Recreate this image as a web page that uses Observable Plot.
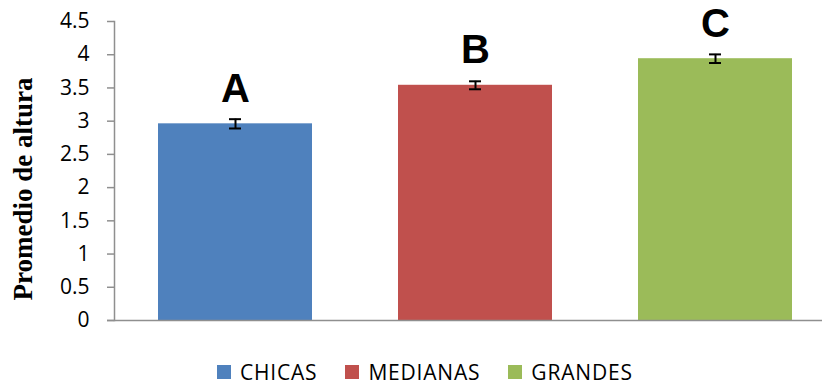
<!DOCTYPE html>
<html>
<head>
<meta charset="utf-8">
<script src="https://cdn.jsdelivr.net/npm/d3@7"></script>
<script src="https://cdn.jsdelivr.net/npm/@observablehq/plot@0.6"></script>
<style>
  html, body { margin: 0; padding: 0; background: #fff; }
  #chart { width: 822px; height: 385px; position: relative; }
  .legend { position: absolute; left: 217px; top: 361px; height: 22px; display: flex; align-items: center;
            font-family: "Open Sans", sans-serif; font-size: 21px; line-height: 22px; color: #000; }
  .legend .item { display: flex; align-items: center; margin-right: 28px; }
  .legend .sw { width: 14px; height: 14px; margin-right: 9px; }
  .legend .lab { display: inline-block; height: 22px; line-height: 22px; letter-spacing: 0.8px; }
</style>
</head>
<body>
<div id="chart"></div>
<script>
const categories = ["CHICAS", "MEDIANAS", "GRANDES"];
const means = [2.96, 3.54, 3.94];
const errors = [0.07, 0.06, 0.065];
const letters = ["A", "B", "C"];
const colors = ["#4F81BD", "#C0504D", "#9BBB59"];
const yTicks = [0, 0.5, 1, 1.5, 2, 2.5, 3, 3.5, 4, 4.5];
const yLabel = "Promedio de altura";

const data = categories.map((c, i) => ({cat: c, mean: means[i], err: errors[i], letter: letters[i]}));

const axisGrey = "#8f8f8f";
const capInset = (154 - 12) / 2;

const plot = Plot.plot({
  width: 822,
  height: 340,
  marginLeft: 114,
  marginRight: 0,
  marginTop: 21,
  marginBottom: 20,
  style: {fontFamily: "Open Sans, sans-serif", fontSize: "21px", color: "#000", background: "#fff"},
  x: {domain: categories, range: [114, 836], paddingInner: 0.36, paddingOuter: 0.18, axis: null},
  y: {domain: [0, 4.5], axis: null},
  color: {domain: categories, range: colors},
  marks: [
    Plot.barY(data, {x: "cat", y: "mean", fill: "cat"}),
    Plot.ruleY([0], {stroke: axisGrey, strokeWidth: 1.5, insetLeft: -7}),
    Plot.frame({anchor: "left", stroke: axisGrey, strokeWidth: 1.5}),
    Plot.axisY({ticks: yTicks, tickSize: 7, tickPadding: 18, stroke: axisGrey, strokeWidth: 1.5,
                tickFormat: d => String(d), label: null, fontSize: 21}),
    Plot.ruleX(data, {x: "cat", y1: d => d.mean - d.err, y2: d => d.mean + d.err, stroke: "#000", strokeWidth: 2}),
    Plot.tickY(data, {x: "cat", y: d => d.mean + d.err, stroke: "#000", strokeWidth: 2, insetLeft: capInset, insetRight: capInset}),
    Plot.tickY(data, {x: "cat", y: d => d.mean - d.err, stroke: "#000", strokeWidth: 2, insetLeft: capInset, insetRight: capInset}),
    Plot.text(data, {x: "cat", y: "mean", text: "letter", dy: -22, lineAnchor: "bottom",
                     fontSize: 40, fontWeight: "bold", fontFamily: "Liberation Sans, Arial, sans-serif", fill: "#000"}),
    Plot.text([yLabel], {frameAnchor: "left", text: d => d, rotate: -90, dx: -91, dy: 18,
                         lineAnchor: "middle", textAnchor: "middle",
                         fontSize: 27, fontWeight: "bold", fontFamily: "Liberation Serif, Times New Roman, serif", fill: "#000"})
  ]
});

const chart = document.getElementById("chart");
chart.appendChild(plot);

const legend = document.createElement("div");
legend.className = "legend";
categories.forEach((c, i) => {
  const item = document.createElement("div");
  item.className = "item";
  const sw = document.createElement("span");
  sw.className = "sw";
  sw.style.background = colors[i];
  const lab = document.createElement("span");
  lab.className = "lab";
  lab.textContent = c;
  item.appendChild(sw);
  item.appendChild(lab);
  legend.appendChild(item);
});
chart.appendChild(legend);
</script>
</body>
</html>
